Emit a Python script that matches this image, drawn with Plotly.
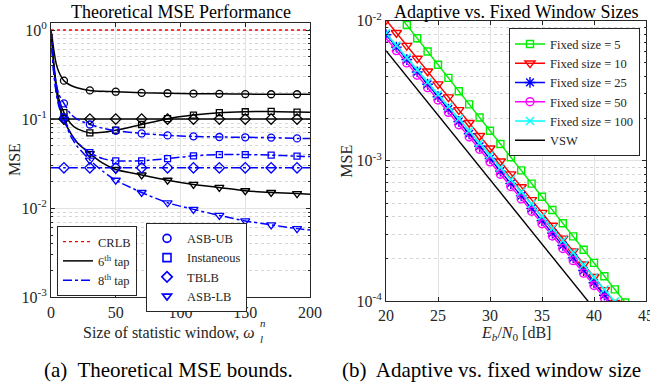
import plotly.graph_objects as go

# ---------------- data: left panel (Theoretical MSE bounds) ----------------
win_x = [0, 1, 2, 4, 6, 10, 15, 20, 30, 40, 50, 70, 90, 110, 130, 150, 170, 190, 200]
marker_x = [10, 30, 50, 70, 90, 110, 130, 150, 170, 190]

crlb = [1.0] * len(win_x)
tap6_ub = [1, 0.8, 0.62, 0.42, 0.34, 0.27, 0.24, 0.225, 0.21, 0.205, 0.203, 0.197, 0.195, 0.193, 0.192, 0.191, 0.19, 0.19, 0.19]
tap6_inst = [1, 0.7, 0.45, 0.25, 0.17, 0.118, 0.09, 0.078, 0.070, 0.071, 0.075, 0.087, 0.101, 0.111, 0.118, 0.121, 0.122, 0.12, 0.119]
tap6_tblb = [0.1] * len(win_x)
tap6_lb = [1, 0.65, 0.42, 0.22, 0.15, 0.098, 0.07, 0.055, 0.041, 0.032, 0.0272, 0.0236, 0.0206, 0.0185, 0.0171, 0.0157, 0.015, 0.0146, 0.0143]
tap8_ub = [1, 0.6, 0.4, 0.25, 0.19, 0.15, 0.115, 0.1, 0.087, 0.079, 0.074, 0.069, 0.0656, 0.064, 0.063, 0.0625, 0.062, 0.0607, 0.0605]
tap8_inst = [1, 0.55, 0.35, 0.2, 0.15, 0.105, 0.07, 0.055, 0.042, 0.036, 0.034, 0.034, 0.036, 0.0387, 0.040, 0.040, 0.0394, 0.0384, 0.038]
tap8_tblb = [0.0284] * len(win_x)
tap8_lb = [1, 0.55, 0.35, 0.2, 0.14, 0.1, 0.065, 0.05, 0.0347, 0.026, 0.0206, 0.015, 0.0115, 0.0097, 0.0083, 0.0072, 0.0065, 0.0059, 0.0057]

bound_names = ["ASB-UB", "Instaneous", "TBLB", "ASB-LB"]
tap_names = ["CRLB", "6<sup>th</sup> tap", "8<sup>th</sup> tap"]

# ---------------- data: right panel (Adaptive vs fixed) ----------------
ebn0 = list(range(20, 43))
fixed5_x = list(range(21, 44))
fixed5 = [0.01156, 0.00931, 0.00749, 0.00603, 0.00485, 0.00391, 0.00314, 0.00253, 0.00204, 0.00164,
          0.00132, 0.00106, 0.000855, 0.000688, 0.000554, 0.000446, 0.000359, 0.000289, 0.000232,
          0.000187, 0.000150, 0.000121, 0.0000975]
fixed10 = [0.01014, 0.00820, 0.00664, 0.00538, 0.00436, 0.00353, 0.00285, 0.00231, 0.00187, 0.00151, 0.00123,
           0.000993, 0.000804, 0.000651, 0.000527, 0.000427, 0.000346, 0.000280, 0.000227, 0.000183,
           0.000149, 0.000120, 0.0000973]
fixed25 = [0.00794, 0.00648, 0.00528, 0.00431, 0.00352, 0.00287, 0.00234, 0.00191, 0.00156, 0.00127, 0.00104,
           0.000844, 0.000689, 0.000562, 0.000458, 0.000374, 0.000305, 0.000249, 0.000203, 0.000165,
           0.000135, 0.000110, 0.0000897]
fixed50 = [0.00750, 0.00612, 0.00500, 0.00408, 0.00333, 0.00272, 0.00222, 0.00181, 0.00148, 0.00121, 0.000984,
           0.000803, 0.000656, 0.000535, 0.000437, 0.000356, 0.000291, 0.000237, 0.000194, 0.000158,
           0.000129, 0.000105, 0.0000860]
fixed100 = [0.00813, 0.00665, 0.00545, 0.00446, 0.00365, 0.00299, 0.00244, 0.00200, 0.00164, 0.00134, 0.00110,
            0.000897, 0.000735, 0.000601, 0.000492, 0.000403, 0.000330, 0.000270, 0.000221, 0.000181,
            0.000148, 0.000121, 0.0000991]
vsw_x = list(range(20, 41))
vsw = [0.00611, 0.00494, 0.00400, 0.00324, 0.00262, 0.00212, 0.00171, 0.00139, 0.00112, 0.000908, 0.000735,
       0.000594, 0.000481, 0.000389, 0.000315, 0.000255, 0.000206, 0.000167, 0.000135, 0.000109, 0.0000883]
fixed_names = ["Fixed size = 5", "Fixed size = 10", "Fixed size = 25", "Fixed size = 50", "Fixed size = 100", "VSW"]

FONT = "Liberation Serif, Times New Roman, serif"
TXT = "#262626"
GRID = "#e3e3e3"
MINOR = "#d6d6d6"
BLUE = "#0000ff"

fig = go.Figure()

def sub(vals, xs, keep):
    return [v for x, v in zip(xs, vals) if x in keep]

# ---- left panel lines
fig.add_trace(go.Scatter(x=win_x, y=crlb, mode="lines", line=dict(color="#ff0000", width=1.3, dash="dot"),
                         name=tap_names[0], legend="legend", xaxis="x", yaxis="y"))
curves = [(tap6_ub, "black", "solid", "circle-open"), (tap6_inst, "black", "solid", "square-open"),
          (tap6_tblb, "black", "solid", "diamond-open"), (tap6_lb, "black", "solid", "triangle-down-open"),
          (tap8_ub, BLUE, "dashdot", "circle-open"), (tap8_inst, BLUE, "dashdot", "square-open"),
          (tap8_tblb, BLUE, "dashdot", "diamond-open"), (tap8_lb, BLUE, "dashdot", "triangle-down-open")]
for i, (vals, col, dash, sym) in enumerate(curves):
    fig.add_trace(go.Scatter(x=win_x, y=vals, mode="lines",
                             line=dict(color=col, width=1.5, dash=dash, shape="spline", smoothing=0.6),
                             name=tap_names[1] if col == "black" else tap_names[2],
                             showlegend=(i in (0, 4)), legend="legend", xaxis="x", yaxis="y"))
for vals, col, dash, sym in curves:
    sz = 7 if "circle" in sym else (6 if "square" in sym else 8)
    fig.add_trace(go.Scatter(x=marker_x, y=sub(vals, win_x, marker_x), mode="markers",
                             marker=dict(symbol=sym, size=sz, color=col, line=dict(width=1.3, color=col)),
                             showlegend=False, xaxis="x", yaxis="y"))
# marker legend
for name, sym in zip(bound_names, ["circle-open", "square-open", "diamond-open", "triangle-down-open"]):
    fig.add_trace(go.Scatter(x=[None], y=[None], mode="markers", name=name, legend="legend2",
                             marker=dict(symbol=sym, size=8, color=BLUE, line=dict(width=1.6, color=BLUE)),
                             xaxis="x", yaxis="y"))

# ---- right panel
specs = [(fixed5_x, fixed5, "#00ee00", "square-open", 7),
         (ebn0, fixed10, "#ff0000", "triangle-down-open", 9),
         (ebn0, fixed25, "#0000ff", "asterisk-open", 9),
         (ebn0, fixed50, "#ff00ff", "circle-open", 8),
         (ebn0, fixed100, "#00ffff", "x-thin-open", 8)]
for (xs, ys, col, sym, sz), name in zip(specs, fixed_names):
    fig.add_trace(go.Scatter(x=xs, y=ys, mode="lines+markers", name=name, legend="legend3",
                             line=dict(color=col, width=1.4),
                             marker=dict(symbol=sym, size=sz, color=col, line=dict(width=1.4, color=col)),
                             xaxis="x2", yaxis="y2"))
fig.add_trace(go.Scatter(x=vsw_x, y=vsw, mode="lines", name=fixed_names[5], legend="legend3",
                         line=dict(color="black", width=1.4), xaxis="x2", yaxis="y2"))

def minor_vals(lo, hi):
    out = []
    for e in range(lo, hi):
        for m in range(2, 10):
            out.append(m * 10 ** e)
    return out

axis_common = dict(showline=True, linecolor=TXT, linewidth=1, mirror="ticks", ticks="inside", ticklen=4,
                   tickcolor=TXT, tickfont=dict(family=FONT, size=16, color=TXT), showgrid=True,
                   gridcolor=GRID, gridwidth=1, zeroline=False, automargin=False, ticklabeloverflow="allow")

H = 386.0
W = 650.0
LEGFONT = dict(family=FONT, size=12.5, color=TXT)
fig.update_layout(
    template="none",
    width=650, height=386, margin=dict(l=0, r=0, t=0, b=0, pad=0, autoexpand=False),
    paper_bgcolor="white", plot_bgcolor="white", font=dict(family=FONT, color=TXT),
    xaxis=dict(domain=[51 / W, 310 / W], range=[0, 200], tickvals=[0, 50, 100, 150, 200], anchor="y",
               **axis_common),
    yaxis=dict(domain=[1 - 297.3 / H, 1 - 22.7 / H], type="log", range=[-3, 0.082], anchor="x",
               tickvals=[1e-3, 1e-2, 1e-1, 1],
               ticktext=["10<sup>-3</sup>", "10<sup>-2</sup>", "10<sup>-1</sup>", "10<sup>0</sup>"],
               minor=dict(tickvals=minor_vals(-3, 0), showgrid=True, gridcolor=MINOR, griddash="dot",
                          ticks="inside", ticklen=2, tickcolor=TXT),
               **axis_common),
    xaxis2=dict(domain=[386 / W, 646 / W], range=[20, 45], tickvals=[20, 25, 30, 35, 40, 45], anchor="y2",
                **axis_common),
    yaxis2=dict(domain=[1 - 301 / H, 1 - 20.7 / H], type="log", range=[-4, -2], anchor="x2",
                tickvals=[1e-4, 1e-3, 1e-2],
                ticktext=["10<sup>-4</sup>", "10<sup>-3</sup>", "10<sup>-2</sup>"],
                minor=dict(tickvals=minor_vals(-4, -2), showgrid=True, gridcolor=MINOR, griddash="dot",
                           ticks="inside", ticklen=2, tickcolor=TXT),
                **axis_common),
    legend=dict(x=57 / W, y=1 - 226 / H, xanchor="left", yanchor="top", bgcolor="white",
                bordercolor=TXT, borderwidth=1, font=LEGFONT, itemwidth=30, tracegroupgap=0),
    legend2=dict(x=146 / W, y=1 - 222.7 / H, xanchor="left", yanchor="top", bgcolor="white",
                 bordercolor=TXT, borderwidth=1, font=LEGFONT, itemwidth=30, tracegroupgap=0),
    legend3=dict(x=640 / W, y=1 - 28.3 / H, xanchor="right", yanchor="top", bgcolor="white",
                 bordercolor=TXT, borderwidth=1, font=LEGFONT, itemwidth=30, tracegroupgap=0),
)

ann = []
def A(text, x, y, size, xanchor="center", yanchor="middle", angle=0, color="black"):
    ann.append(dict(text=text, x=x / W, y=1 - y / H, xref="paper", yref="paper", showarrow=False,
                    xanchor=xanchor, yanchor=yanchor, textangle=angle,
                    font=dict(family=FONT, size=size, color=color)))

A("Theoretical MSE Performance", 180.5, 12, 18)
A("Adaptive vs. Fixed Window Sizes", 516, 12, 18)
A("MSE", 15, 160, 16, angle=-90, color=TXT)
A("MSE", 346.7, 161, 16, angle=-90, color=TXT)
A("Size of statistic window, <i>ω</i>", 257, 332, 16, xanchor="right", color=TXT)
A("<i>n</i>", 258, 323, 11, xanchor="left", color=TXT)
A("<i>l</i>", 258, 339, 11, xanchor="left", color=TXT)
A("<i>E</i><sub><i>b</i></sub>/<i>N</i><sub>0</sub> [dB]", 516, 333, 16, color=TXT)
A("(a)  Theoretical MSE bounds.", 168.8, 370, 21)
A("(b)  Adaptive vs. fixed window size", 340, 370, 21, xanchor="left")
fig.update_layout(annotations=ann)

fig.write_html("out.html", config={"displayModeBar": False},
               post_script="document.body.style.margin='0';document.body.style.padding='0';")
